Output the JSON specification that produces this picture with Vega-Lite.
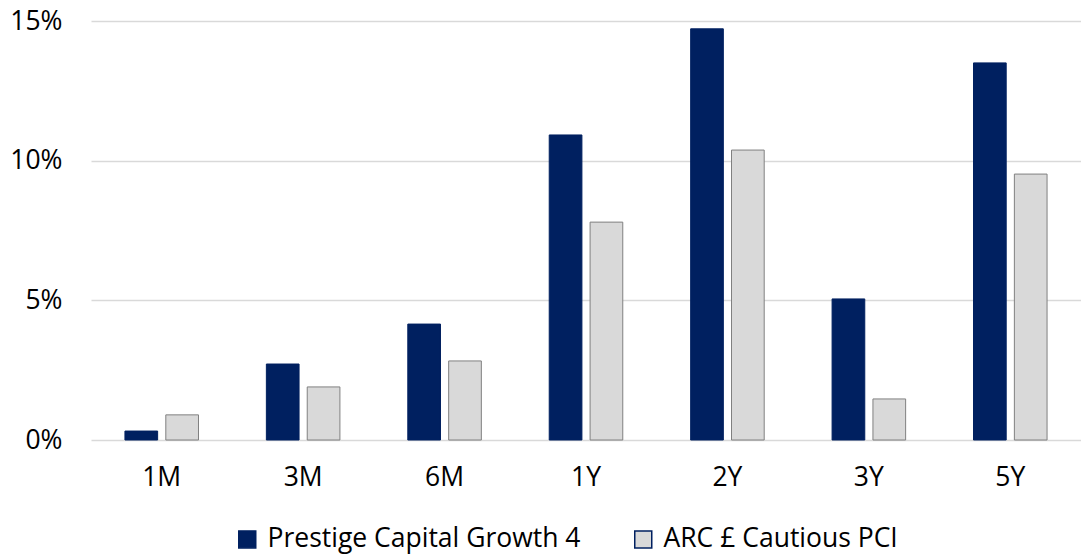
{
  "$schema": "https://vega.github.io/schema/vega-lite/v6.json",
  "width": 990,
  "height": 419,
  "autosize": {"type": "none"},
  "padding": {"left": 91, "top": 21, "right": 0, "bottom": 116},
  "background": "white",
  "config": {"view": {"stroke": null}, "font": "Open Sans"},
  "data": {"values": [
    {"period": "1M", "series": "Prestige Capital Growth 4", "value": 0.32},
    {"period": "1M", "series": "ARC £ Cautious PCI", "value": 0.9},
    {"period": "3M", "series": "Prestige Capital Growth 4", "value": 2.72},
    {"period": "3M", "series": "ARC £ Cautious PCI", "value": 1.9},
    {"period": "6M", "series": "Prestige Capital Growth 4", "value": 4.15},
    {"period": "6M", "series": "ARC £ Cautious PCI", "value": 2.83},
    {"period": "1Y", "series": "Prestige Capital Growth 4", "value": 10.92},
    {"period": "1Y", "series": "ARC £ Cautious PCI", "value": 7.8},
    {"period": "2Y", "series": "Prestige Capital Growth 4", "value": 14.72},
    {"period": "2Y", "series": "ARC £ Cautious PCI", "value": 10.38},
    {"period": "3Y", "series": "Prestige Capital Growth 4", "value": 5.05},
    {"period": "3Y", "series": "ARC £ Cautious PCI", "value": 1.47},
    {"period": "5Y", "series": "Prestige Capital Growth 4", "value": 13.5},
    {"period": "5Y", "series": "ARC £ Cautious PCI", "value": 9.52}
  ]},
  "mark": {"type": "bar", "strokeWidth": 1},
  "encoding": {
    "x": {
      "field": "period", "type": "nominal",
      "sort": ["1M", "3M", "6M", "1Y", "2Y", "3Y", "5Y"],
      "scale": {"paddingInner": 0.48, "paddingOuter": 0.24},
      "axis": {"title": null, "labelAngle": 0, "domain": false, "ticks": false, "labelFontSize": 26.5, "labelColor": "#000000", "labelPadding": 24, "labelFont": "Open Sans"}
    },
    "xOffset": {
      "field": "series", "type": "nominal",
      "sort": ["Prestige Capital Growth 4", "ARC £ Cautious PCI"],
      "scale": {"paddingInner": 0.2, "paddingOuter": 0}
    },
    "y": {
      "field": "value", "type": "quantitative",
      "scale": {"domain": [0, 15], "nice": false},
      "axis": {"title": null, "values": [0, 5, 10, 15], "labelExpr": "datum.value + '%'", "domain": false, "ticks": false, "gridColor": "#d9d9d9", "gridWidth": 1.5, "labelFontSize": 26.5, "labelColor": "#000000", "labelPadding": 29, "labelFont": "Open Sans"}
    },
    "color": {
      "field": "series", "type": "nominal",
      "sort": ["Prestige Capital Growth 4", "ARC £ Cautious PCI"],
      "scale": {"domain": ["Prestige Capital Growth 4", "ARC £ Cautious PCI"], "range": ["#002060", "#d9d9d9"]},
      "legend": {
        "title": null, "orient": "none", "direction": "horizontal",
        "legendX": 143, "legendY": 505,
        "symbolType": "square", "symbolSize": 289, "symbolOpacity": 1,
        "labelFontSize": 26.5, "labelColor": "#000000", "labelFont": "Open Sans", "labelLimit": 500,
        "columnPadding": 49, "labelOffset": 7,
        "encode": {"symbols": {"update": {"stroke": {"signal": "datum.value === 'ARC £ Cautious PCI' ? '#808080' : '#002060'"}, "strokeWidth": {"value": 1}}}}
      }
    },
    "stroke": {
      "condition": {"test": "datum.series === 'ARC £ Cautious PCI'", "value": "#808080"},
      "value": "#002060"
    }
  }
}
